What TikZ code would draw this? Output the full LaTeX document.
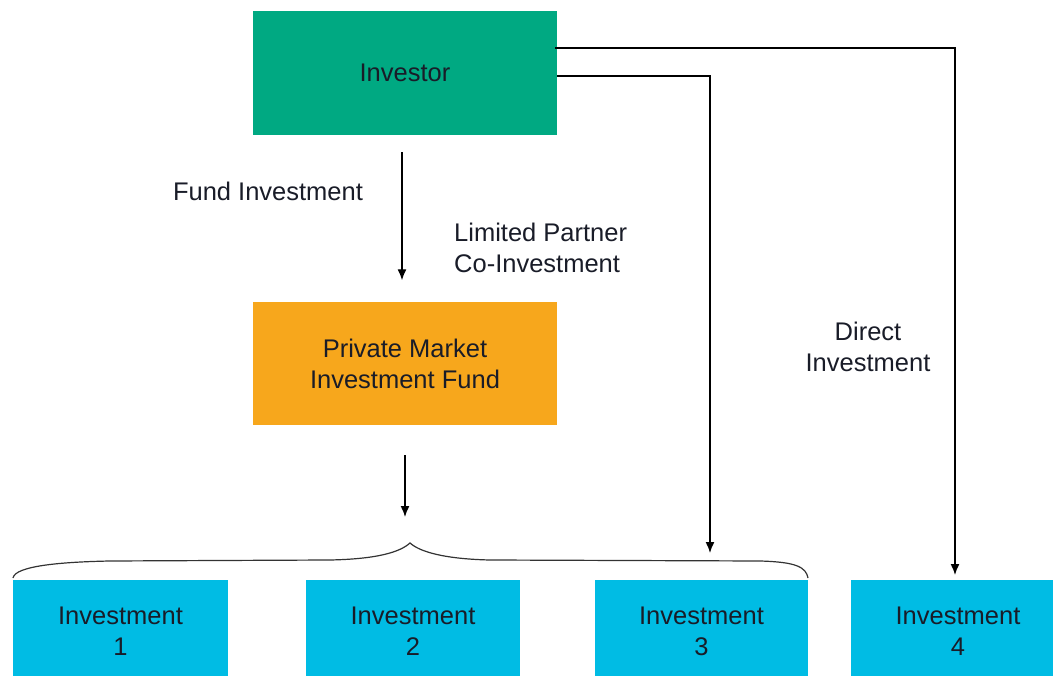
\documentclass[tikz,border=0pt]{standalone}
\usepackage{fontspec}
\setmainfont{Liberation Sans}
\usetikzlibrary{arrows.meta,calc}
\definecolor{investgreen}{RGB}{0,169,130}
\definecolor{fundorange}{RGB}{247,167,28}
\definecolor{holdingblue}{RGB}{0,188,228}
\definecolor{inktext}{RGB}{25,28,40}
\begin{document}
\begin{tikzpicture}[x=1pt,y=-1pt,
  every node/.style={font=\fontsize{25.5}{31}\selectfont, text=inktext},
  box/.style={draw=none, inner sep=0pt, align=center},
  lbl/.style={inner sep=0pt, align=center},
  conn/.style={line width=1.4pt, -{Latex[length=11pt,width=9pt]}},
  bracepath/.style={line width=1.2pt, draw=black!80}
]
\useasboundingbox (0,0) rectangle (1053,676);

% top investor and fund boxes
\node[box, fill=investgreen, minimum width=304pt, minimum height=124pt] (investor) at (405,73) {Investor};
\node[box, fill=fundorange, minimum width=304pt, minimum height=123pt] (fund) at (405,364) {Private Market\\Investment Fund};

% portfolio holdings along the bottom
\node[box, fill=holdingblue, minimum width=215pt, minimum height=96pt] (i1) at (120.5,628) {};
\node[box, fill=holdingblue, minimum width=214pt, minimum height=96pt] (i2) at (413,628) {};
\node[box, fill=holdingblue, minimum width=213pt, minimum height=96pt] (i3) at (701.5,628) {};
\node[box, fill=holdingblue, minimum width=202pt, minimum height=96pt] (i4) at (952,628) {};
\node[lbl] (t1) at (120.5,631) {Investment\\1};
\node[lbl] (t2) at (413,631) {Investment\\2};
\node[lbl] (t3) at (701.5,631) {Investment\\3};
\node[lbl] (t4) at (958,631) {Investment\\4};

% labels
\node[lbl] (lfund) at (268,191) {Fund Investment};
\node[lbl, align=left, anchor=west] (lco) at (454,248) {Limited Partner\\Co-Investment};
\node[lbl] (ldirect) at (868,347) {Direct\\Investment};

% vertical flows
\draw[conn, shorten <=17pt, shorten >=22pt] (investor.south -| 402,0) -- (fund.north -| 402,0);
\coordinate (fundout) at (405,455);
\coordinate (bracetop) at (405,517);
\draw[conn] (fundout) -- (bracetop);

% co-investment and direct investment routes
\coordinate (coend) at (710,553);
\coordinate (directend) at (955,575);
\draw[conn] ($(investor.east)+(0,3)$) -| (coend);
\draw[conn] ($(investor.east)+(-2,-25)$) -| (directend);

% brace over the fund holdings
\draw[bracepath] (13,578) .. controls (15,566) and (60,562) .. (110,561)
  -- (330,560) .. controls (378,559) and (400,552) .. (410,543)
  .. controls (420,552) and (445,559) .. (490,560)
  -- (760,561) .. controls (796,562) and (806,567) .. (808,578);
\end{tikzpicture}
\end{document}
